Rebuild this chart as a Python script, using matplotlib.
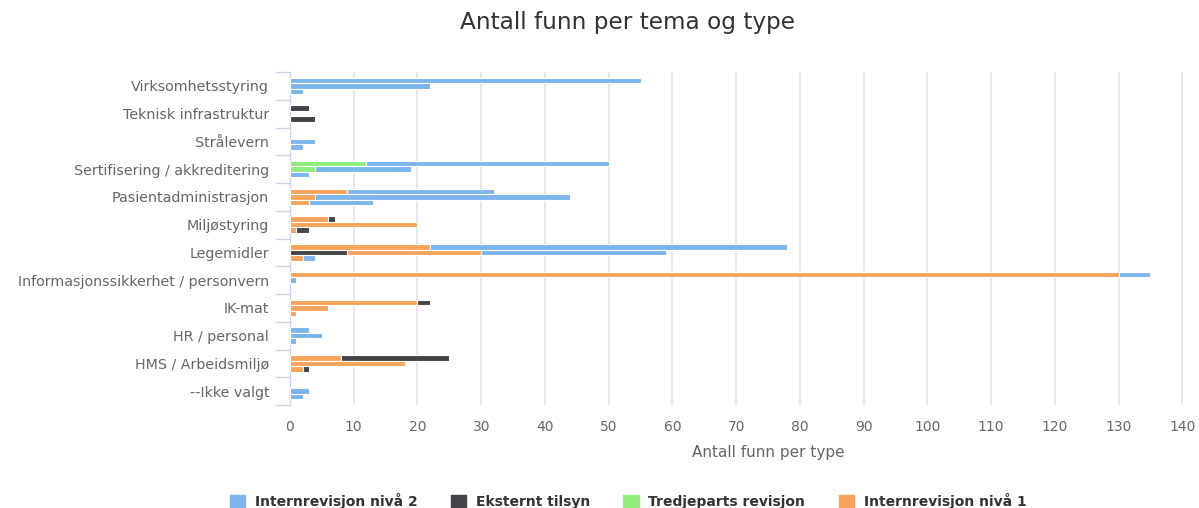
import numpy as np
import matplotlib
matplotlib.use("Agg")
from matplotlib import pyplot as plt

plt.rcParams['font.family'] = ['DejaVu Sans']

categories = ["Virksomhetsstyring", "Teknisk infrastruktur", "Strålevern",
              "Sertifisering / akkreditering", "Pasientadministrasjon", "Miljøstyring",
              "Legemidler", "Informasjonssikkerhet / personvern", "IK-mat",
              "HR / personal", "HMS / Arbeidsmiljø", "--Ikke valgt"]

# values per category, three stacks each [stack 1, stack 2, stack 3]
intern_2 = [[55, 22, 2], [0, 0, 0], [0, 4, 2], [38, 15, 3], [23, 40, 10], [0, 0, 0],
            [56, 29, 2], [5, 1, 0], [0, 0, 0], [3, 5, 1], [0, 0, 0], [0, 3, 2]]
eksternt = [[0, 0, 0], [3, 0, 4], [0, 0, 0], [0, 0, 0], [0, 0, 0], [1, 0, 2],
            [0, 9, 0], [0, 0, 0], [2, 0, 0], [0, 0, 0], [17, 0, 1], [0, 0, 0]]
tredjeparts = [[0, 0, 0], [0, 0, 0], [0, 0, 0], [12, 4, 0], [0, 0, 0], [0, 0, 0],
               [0, 0, 0], [0, 0, 0], [0, 0, 0], [0, 0, 0], [0, 0, 0], [0, 0, 0]]
intern_1 = [[0, 0, 0], [0, 0, 0], [0, 0, 0], [0, 0, 0], [9, 4, 3], [6, 20, 1],
            [22, 21, 2], [130, 0, 0], [20, 6, 1], [0, 0, 0], [8, 18, 2], [0, 0, 0]]

series_names = ["Internrevisjon nivå 2", "Eksternt tilsyn", "Tredjeparts revisjon", "Internrevisjon nivå 1"]
colors = ["#7cb5ec", "#434348", "#90ed7d", "#f7a35c"]
series_data = [intern_2, eksternt, tredjeparts, intern_1]
x_ticks = list(range(0, 141, 10))

# order of segments from the axis outwards, per stack
stack_order = [[3, 2, 1, 0], [1, 2, 3, 0], [3, 2, 1, 0]]
offsets = [-0.2, 0.0, 0.2]

W, H = 1199, 508
fig = plt.figure(figsize=(W / 100, H / 100), dpi=100)
# plot area runs on past the right edge (to 150), as in the cropped screenshot
ax = fig.add_axes([290 / W, 103 / H, 956 / W, 333 / H])

y = np.arange(len(categories))
for s in range(3):
    left = np.zeros(len(categories))
    for k in stack_order[s]:
        vals = np.array([row[s] for row in series_data[k]], dtype=float)
        mask = vals > 0
        ax.barh(y[mask] + offsets[s], vals[mask], left=left[mask], height=0.2,
                color=colors[k], edgecolor='white', linewidth=0.8, zorder=3)
        left += vals

ax.set_xlim(0, 150)
ax.set_ylim(len(categories) - 0.5, -0.5)
ax.set_xticks(x_ticks)
for xv in [150]:
    ax.axvline(xv, color='#e6e6e6', linewidth=1.3, zorder=0)
ax.grid(axis='x', color='#e6e6e6', linewidth=1.3, zorder=0)
ax.tick_params(axis='x', length=0, pad=11, labelsize=10, labelcolor='#666666')

ax.set_yticks(np.arange(-0.5, len(categories) + 0.5, 1))
ax.set_yticklabels([])
ax.set_yticks(y, minor=True)
ax.set_yticklabels(categories, minor=True)
ax.tick_params(axis='y', which='major', length=11, color='#ccd6eb', width=1)
ax.tick_params(axis='y', which='minor', length=0, pad=15, labelsize=10.3, labelcolor='#666666')

for side in ['top', 'right', 'bottom']:
    ax.spines[side].set_visible(False)
ax.spines['left'].set_color('#ccd6eb')
ax.spines['left'].set_linewidth(1)

ax.set_xlabel("Antall funn per type", fontsize=11, color='#666666', labelpad=8)

fig.text(628 / W, 1 - 22 / H, "Antall funn per tema og type", ha='center', va='center',
         fontsize=16.7, color='#333333')

handles = [plt.Rectangle((0, 0), 1, 1, color=c) for c in colors]
fig.legend(handles, series_names, loc='center', bbox_to_anchor=(628 / W, 1 - 501 / H),
           ncol=4, frameon=False, handlelength=1.1, handleheight=1.1, columnspacing=2.4,
           handletextpad=0.7, prop={'weight': 'bold', 'size': 10}, labelcolor='#333333')

fig.savefig("out.png", dpi=100)
